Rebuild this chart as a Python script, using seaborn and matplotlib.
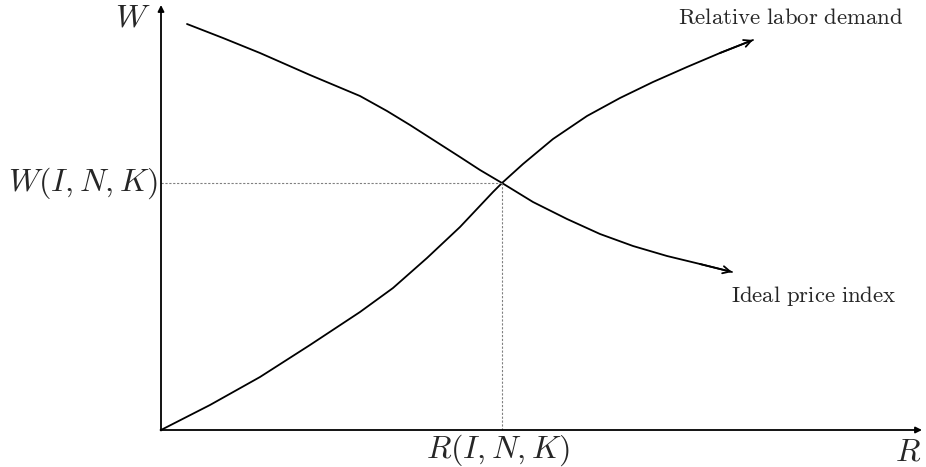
import matplotlib
matplotlib.use("Agg")
import matplotlib.pyplot as plt
import seaborn as sns
import pandas as pd

# curves (R to the right, W upward, origin at the axes corner)
demand_r = [0, 49, 99, 149, 199, 232, 266, 299, 332, 341, 362, 392, 426, 459, 492, 526, 559, 592]
demand_w = [0, 25, 53, 85, 118, 142, 172, 203, 238, 247, 266, 291, 314, 332, 348, 363, 377, 390]
price_r = [26, 62, 99, 149, 199, 226, 249, 274, 299, 319, 341, 372, 406, 439, 472, 506, 539, 571]
price_w = [406, 392, 377, 355, 334, 319, 305, 289, 273, 260, 247, 228, 211, 196, 184, 174, 166, 158]

eq_r = 341
eq_w = 247

labels = {
    "demand": r"$\mathrm{Relative\ labor\ demand}$",
    "price": r"$\mathrm{Ideal\ price\ index}$",
}

sns.set_theme(style="white")
plt.rcParams["mathtext.fontset"] = "cm"

fig = plt.figure(figsize=(9.26, 4.67), dpi=100)
ax = fig.add_axes([0, 0, 1, 1])
ax.set_xlim(-161, 765)
ax.set_ylim(-37, 430)
ax.axis("off")

df_d = pd.DataFrame({"R": demand_r, "W": demand_w})
df_p = pd.DataFrame({"R": price_r, "W": price_w})
sns.lineplot(data=df_d, x="R", y="W", ax=ax, color="black", lw=1.3, sort=False,
             solid_joinstyle="round")
sns.lineplot(data=df_p, x="R", y="W", ax=ax, color="black", lw=1.3, sort=False,
             solid_joinstyle="round")

# arrow heads on curve ends
arr = dict(arrowstyle="->", color="black", lw=1.3, mutation_scale=13, shrinkA=0, shrinkB=0)
ax.annotate("", xy=(demand_r[-1], demand_w[-1]), xytext=(demand_r[-2], demand_w[-2]), arrowprops=arr)
ax.annotate("", xy=(price_r[-1], price_w[-1]), xytext=(price_r[-2], price_w[-2]), arrowprops=arr)

# axes with arrows
ax_arr = dict(arrowstyle="-|>", color="black", lw=1.3, mutation_scale=9, shrinkA=0, shrinkB=0)
ax.annotate("", xy=(0, 425), xytext=(0, -0.5), arrowprops=ax_arr)
ax.annotate("", xy=(761, 0), xytext=(-0.5, 0), arrowprops=ax_arr)

# dotted guide lines
ax.plot([0, eq_r], [eq_w, eq_w], color="gray", lw=0.8, ls=(0, (2, 1.5)))
ax.plot([eq_r, eq_r], [0, eq_w], color="gray", lw=0.8, ls=(0, (2, 1.5)))

fs = 23
ax.text(-10, 412, r"$W$", fontsize=fs, ha="right", va="center")
ax.text(-3, eq_w, r"$W(I,N,K)$", fontsize=fs, ha="right", va="center")
ax.text(eq_r - 4, -20, r"$R(I,N,K)$", fontsize=fs, ha="center", va="center")
ax.text(747, -22, r"$R$", fontsize=fs, ha="center", va="center")
ax.text(630, 413, labels["demand"], fontsize=16.4, ha="center", va="center")
ax.text(653, 134, labels["price"], fontsize=16.4, ha="center", va="center")

fig.savefig("out.png", dpi=100)
